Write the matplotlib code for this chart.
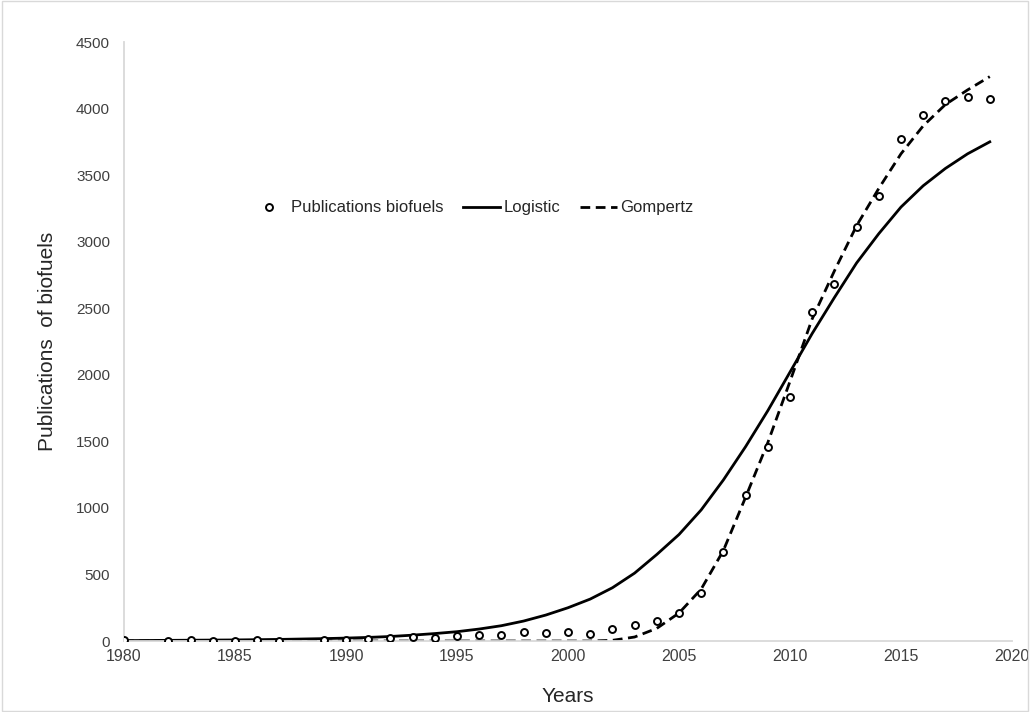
import numpy as np
import matplotlib.pyplot as plt
from matplotlib.patches import Rectangle

plt.rcParams['font.family'] = ['Liberation Sans', 'DejaVu Sans']

# Observed publications (1981 and 1988 not shown in the chart)
obs_years = [1980, 1982, 1983, 1984, 1985, 1986, 1987, 1989, 1990, 1991,
             1992, 1993, 1994, 1995, 1996, 1997, 1998, 1999, 2000, 2001,
             2002, 2003, 2004, 2005, 2006, 2007, 2008, 2009, 2010, 2011,
             2012, 2013, 2014, 2015, 2016, 2017, 2018, 2019]
obs_pubs = [4, 3, 8, 2, 2, 10, 3, 5, 5, 15,
            20, 30, 25, 37, 47, 47, 65, 60, 70, 52,
            90, 120, 150, 210, 360, 667, 1095, 1460, 1830, 2475,
            2685, 3110, 3340, 3770, 3955, 4060, 4085, 4075]

# Fitted curves, one value per year
fit_years = list(range(1980, 2020))
logistic = [3, 4, 5, 6, 7, 8, 10, 12, 15, 18,
            22, 27, 34, 44, 56, 70, 90, 115, 150, 195,
            250, 315, 400, 510, 650, 800, 985, 1210, 1460, 1730,
            2020, 2310, 2580, 2840, 3060, 3260, 3420, 3550, 3660, 3750]
gompertz = [0, 0, 0, 0, 0, 0, 0, 0, 0, 0,
            0, 0, 0, 0, 0, 0, 0, 0, 0, 0,
            0, 0, 5, 30, 95, 210, 390, 680, 1080, 1490,
            1950, 2420, 2780, 3120, 3400, 3660, 3870, 4030, 4140, 4240]

fig = plt.figure(figsize=(10.3, 7.12), dpi=100)
ax = fig.add_axes([0.1204, 0.0997, 0.8621, 0.8413])

# outer chart border like the spreadsheet frame
fig.patches.append(Rectangle((0.002, 0.002), 0.996, 0.996, transform=fig.transFigure,
                             fill=False, edgecolor='#d9d9d9', linewidth=1))

ax.plot(obs_years, obs_pubs, linestyle='none', marker='o', markersize=5,
        markerfacecolor='white', markeredgecolor='black', markeredgewidth=1.4,
        label='Publications biofuels', zorder=3)
ax.plot(fit_years, logistic, color='black', linewidth=2, label='Logistic')
ax.plot(fit_years, gompertz, color='black', linewidth=2, linestyle=(0, (3.5, 2)),
        label='Gompertz')

ax.set_xlim(1980, 2020)
ax.set_ylim(0, 4500)
ax.set_xticks(np.arange(1980, 2021, 5))
ax.set_yticks(np.arange(0, 4501, 500))
ax.tick_params(axis='y', length=0, labelsize=11, labelcolor='#404040', pad=10)
ax.tick_params(axis='x', length=0, labelsize=11.5, labelcolor='#404040', pad=6)

for side in ['top', 'right']:
    ax.spines[side].set_visible(False)
for side in ['left', 'bottom']:
    ax.spines[side].set_color('#d9d9d9')
    ax.spines[side].set_linewidth(1.3)

ax.set_xlabel('Years', fontsize=15, color='#262626', labelpad=16)
ax.set_ylabel('Publications  of biofuels', fontsize=15, color='#262626', labelpad=14)

ax.legend(loc='center', bbox_to_anchor=(0.392, 0.723), ncol=3, frameon=False,
          fontsize=12, handlelength=2.2, columnspacing=1.2, handletextpad=0.2,
          labelcolor='#262626')

fig.savefig('out.png', dpi=100)
